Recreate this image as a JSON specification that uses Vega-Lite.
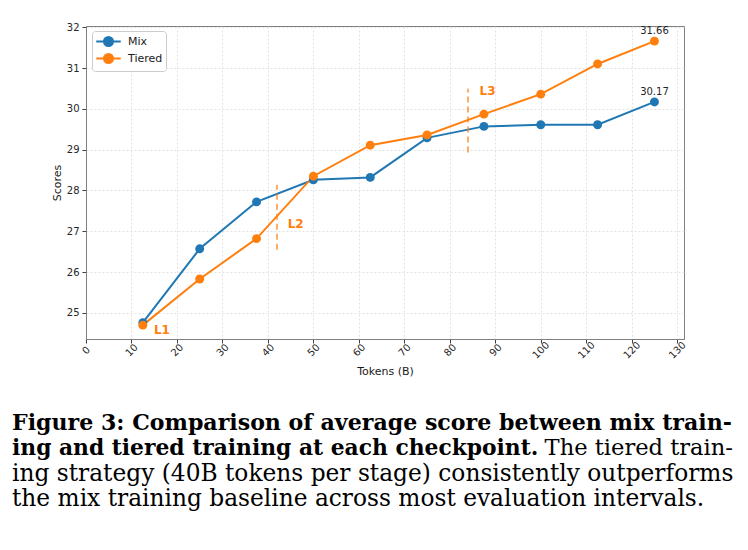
{
  "$schema": "https://vega.github.io/schema/vega-lite/v6.json",
  "background": "white",
  "padding": {"left": 12, "top": 21, "right": 10, "bottom": 10},
  "bounds": "flush",
  "spacing": 91,
  "config": {
    "font": "DejaVu Sans",
    "view": {"stroke": "#808080", "strokeWidth": 1},
    "axis": {
      "labelFont": "DejaVu Sans",
      "labelFontSize": 10,
      "labelColor": "#262626",
      "titleFont": "DejaVu Sans",
      "titleFontSize": 11,
      "titleFontWeight": "normal",
      "titleColor": "#1a1a1a",
      "tickColor": "#404040",
      "tickSize": 4,
      "domainColor": "#808080",
      "gridColor": "#dcdcdc",
      "gridDash": [2, 2],
      "gridWidth": 0.8
    }
  },
  "vconcat": [
    {
      "width": 598,
      "height": 313,
      "layer": [
        {
          "data": {
            "values": [
              {"series": "Mix", "tokens": 12.5, "score": 24.76},
              {"series": "Mix", "tokens": 25, "score": 26.57},
              {"series": "Mix", "tokens": 37.5, "score": 27.72},
              {"series": "Mix", "tokens": 50, "score": 28.26},
              {"series": "Mix", "tokens": 62.5, "score": 28.32},
              {"series": "Mix", "tokens": 75, "score": 29.29},
              {"series": "Mix", "tokens": 87.5, "score": 29.57},
              {"series": "Mix", "tokens": 100, "score": 29.61},
              {"series": "Mix", "tokens": 112.5, "score": 29.61},
              {"series": "Mix", "tokens": 125, "score": 30.17},
              {"series": "Tiered", "tokens": 12.5, "score": 24.70},
              {"series": "Tiered", "tokens": 25, "score": 25.83},
              {"series": "Tiered", "tokens": 37.5, "score": 26.82},
              {"series": "Tiered", "tokens": 50, "score": 28.35},
              {"series": "Tiered", "tokens": 62.5, "score": 29.11},
              {"series": "Tiered", "tokens": 75, "score": 29.36},
              {"series": "Tiered", "tokens": 87.5, "score": 29.87},
              {"series": "Tiered", "tokens": 100, "score": 30.36},
              {"series": "Tiered", "tokens": 112.5, "score": 31.10},
              {"series": "Tiered", "tokens": 125, "score": 31.66}
            ]
          },
          "layer": [
            {
              "mark": {"type": "line", "strokeWidth": 2, "point": {"filled": true, "size": 80}},
              "encoding": {
                "x": {
                  "field": "tokens",
                  "type": "quantitative",
                  "title": "Tokens (B)",
                  "scale": {"domain": [0, 131.5], "nice": false, "zero": false},
                  "axis": {
                    "values": [0, 10, 20, 30, 40, 50, 60, 70, 80, 90, 100, 110, 120, 130],
                    "labelAngle": -45,
                    "labelAlign": "center",
                    "labelBaseline": "middle",
                    "labelPadding": 7,
                    "titlePadding": 5
                  }
                },
                "y": {
                  "field": "score",
                  "type": "quantitative",
                  "title": "Scores",
                  "scale": {"domain": [24.36, 32.03], "nice": false, "zero": false},
                  "axis": {"values": [25, 26, 27, 28, 29, 30, 31, 32], "labelPadding": 3, "titlePadding": 4}
                },
                "color": {
                  "field": "series",
                  "type": "nominal",
                  "scale": {"domain": ["Mix", "Tiered"], "range": ["#1f77b4", "#ff7f0e"]},
                  "legend": {
                    "title": null,
                    "orient": "none",
                    "legendX": 6,
                    "legendY": 5,
                    "fillColor": "white",
                    "strokeColor": "#cccccc",
                    "cornerRadius": 3,
                    "padding": 3,
                    "labelFont": "DejaVu Sans",
                    "labelFontSize": 11,
                    "labelColor": "#1a1a1a",
                    "symbolType": "M-2,0H2M0.74,0A0.74,0.74,0,1,1,-0.74,0A0.74,0.74,0,1,1,0.74,0Z",
                    "symbolSize": 150,
                    "symbolStrokeWidth": 2,
                    "symbolOffset": 6,
                    "rowPadding": -2,
                    "labelOffset": 12,
                    "encode": {"symbols": {"update": {"fill": {"scale": "color", "field": "value"}}}}
                  }
                }
              }
            },
            {
              "transform": [{"filter": "datum.tokens === 125"}],
              "mark": {"type": "text", "dy": -10, "fontSize": 10, "color": "#262626", "font": "DejaVu Sans"},
              "encoding": {
                "x": {"field": "tokens", "type": "quantitative"},
                "y": {"field": "score", "type": "quantitative"},
                "text": {"field": "score", "type": "quantitative", "format": ".2f"}
              }
            }
          ]
        },
        {
          "data": {
            "values": [
              {"stage": "L2", "tokens": 42, "low": 26.55, "high": 28.14},
              {"stage": "L3", "tokens": 84, "low": 28.93, "high": 30.49}
            ]
          },
          "mark": {"type": "rule", "color": "#ff7f0e", "strokeWidth": 1.5, "strokeDash": [6, 4], "opacity": 0.85},
          "encoding": {
            "x": {"field": "tokens", "type": "quantitative"},
            "y": {"field": "low", "type": "quantitative"},
            "y2": {"field": "high"}
          }
        },
        {
          "data": {
            "values": [
              {"stage": "L1", "tokens": 16.7, "score": 24.57},
              {"stage": "L2", "tokens": 46.1, "score": 27.18},
              {"stage": "L3", "tokens": 88.3, "score": 30.44}
            ]
          },
          "mark": {"type": "text", "color": "#ff7f0e", "fontSize": 12, "fontWeight": "bold", "font": "DejaVu Sans"},
          "encoding": {
            "x": {"field": "tokens", "type": "quantitative"},
            "y": {"field": "score", "type": "quantitative"},
            "text": {"field": "stage"}
          }
        }
      ]
    },
    {
      "width": 598,
      "height": 76,
      "view": {"stroke": null},
      "layer": [
        {
          "data": {"values": [{"line": 1, "text": "Figure 3: Comparison of average score between mix train-"}]},
          "mark": {"type": "text", "font": "DejaVu Serif", "fontWeight": "bold", "fontSize": 22.1, "align": "left", "baseline": "alphabetic", "color": "black"},
          "encoding": {
            "x": {"datum": 0, "type": "quantitative", "scale": {"domain": [0, 1], "range": [-74, 647]}, "axis": null},
            "y": {"field": "line", "type": "ordinal", "scale": {"type": "point", "domain": [1, 2, 3, 4], "padding": 0}, "axis": null},
            "text": {"field": "text"}
          }
        },
        {
          "data": {"values": [{"line": 2, "text": "ing and tiered training at each checkpoint."}]},
          "mark": {"type": "text", "font": "DejaVu Serif", "fontWeight": "bold", "fontSize": 21.8, "align": "left", "baseline": "alphabetic", "color": "black"},
          "encoding": {
            "x": {"datum": 0, "type": "quantitative"},
            "y": {"field": "line", "type": "ordinal"},
            "text": {"field": "text"}
          }
        },
        {
          "data": {"values": [{"line": 2, "text": "The tiered train-"}]},
          "mark": {"type": "text", "font": "DejaVu Serif", "fontSize": 22.6, "align": "right", "baseline": "alphabetic", "color": "black"},
          "encoding": {
            "x": {"datum": 1, "type": "quantitative"},
            "y": {"field": "line", "type": "ordinal"},
            "text": {"field": "text"}
          }
        },
        {
          "data": {
            "values": [
              {"line": 3, "text": "ing strategy (40B tokens per stage) consistently outperforms"},
              {"line": 4, "text": "the mix training baseline across most evaluation intervals."}
            ]
          },
          "mark": {"type": "text", "font": "DejaVu Serif", "fontSize": 23.3, "align": "left", "baseline": "alphabetic", "color": "black"},
          "encoding": {
            "x": {"datum": 0, "type": "quantitative"},
            "y": {"field": "line", "type": "ordinal"},
            "text": {"field": "text"}
          }
        }
      ]
    }
  ]
}
